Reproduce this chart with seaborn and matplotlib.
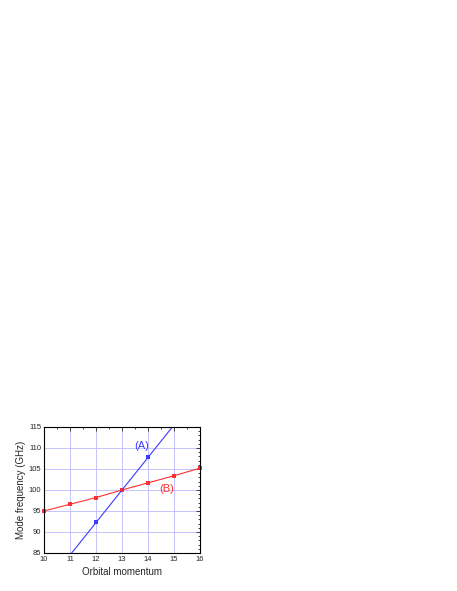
import matplotlib
matplotlib.use("Agg")
import matplotlib.pyplot as plt
import seaborn as sns
import pandas as pd
from matplotlib.ticker import MultipleLocator

# ---- data ----
orbital_a = [12, 13, 14]
freq_a = [92.3, 100.0, 107.8]
fit_a_x = [11, 15]
fit_a_y = [84.5, 115.5]

orbital_b = [10, 11, 12, 13, 14, 15, 16]
freq_b = [95.0, 96.6, 98.2, 100.0, 101.7, 103.4, 105.2]

blue = "#3a3aff"
red = "#ff3030"

sns.set_style("white")
plt.rcParams["font.family"] = ["Liberation Sans", "DejaVu Sans"]

fig = plt.figure(figsize=(4.57, 5.91), dpi=100)
ax = fig.add_axes([0.0963, 0.0643, 0.3414, 0.2132])

df_a = pd.DataFrame({"x": orbital_a, "y": freq_a})
df_b = pd.DataFrame({"x": orbital_b, "y": freq_b})
fit_a = pd.DataFrame({"x": fit_a_x, "y": fit_a_y})

sns.lineplot(data=fit_a, x="x", y="y", color=blue, linewidth=0.8, ax=ax)
sns.scatterplot(data=df_a, x="x", y="y", color=blue, marker="s", s=9,
                linewidth=0, ax=ax)
sns.lineplot(data=df_b, x="x", y="y", color=red, linewidth=0.8, ax=ax)
sns.scatterplot(data=df_b, x="x", y="y", color=red, marker="s", s=9,
                linewidth=0, ax=ax, clip_on=False)

ax.text(13.77, 110.5, "(A)", color=blue, fontsize=8, ha="center", va="center")
ax.text(14.73, 100.2, "(B)", color=red, fontsize=8, ha="center", va="center")

ax.set_xlim(10, 16)
ax.set_ylim(85, 115)
ax.xaxis.set_major_locator(MultipleLocator(1))
ax.xaxis.set_minor_locator(MultipleLocator(0.5))
ax.yaxis.set_major_locator(MultipleLocator(5))
ax.yaxis.set_minor_locator(MultipleLocator(1))
ax.grid(True, which="major", color="#bcbcff", linewidth=0.6)
ax.tick_params(which="both", direction="in", top=True, right=True,
               labelsize=5.5, pad=2, width=0.6)
ax.tick_params(which="major", length=3)
ax.tick_params(which="minor", length=1.5)
for s in ax.spines.values():
    s.set_linewidth(0.8)
    s.set_color("black")

ax.set_xlabel("Orbital momentum", fontsize=7, labelpad=3)
ax.set_ylabel("Mode frequency (GHz)", fontsize=7, labelpad=2)

fig.savefig("out.png", dpi=100)
